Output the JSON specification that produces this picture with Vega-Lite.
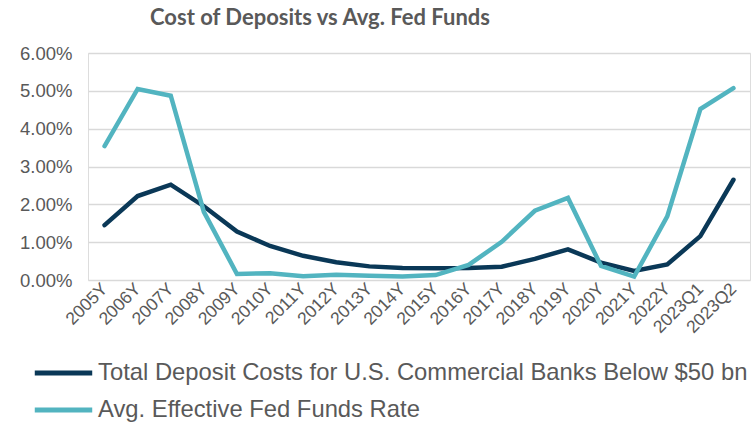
{
  "$schema": "https://vega.github.io/schema/vega-lite/v6.json",
  "width": 662,
  "height": 227,
  "autosize": {"type": "none"},
  "padding": {"left": 88, "top": 53, "right": 3, "bottom": 144},
  "background": "white",
  "title": {
    "text": "Cost of Deposits vs Avg. Fed Funds",
    "anchor": "middle",
    "dx": -99,
    "offset": 14,
    "font": "Lato",
    "fontSize": 22,
    "fontWeight": "bold",
    "color": "#595959"
  },
  "data": {
    "values": [
      {"period": "2005Y", "series": "Total Deposit Costs for U.S. Commercial Banks Below $50 bn", "value": 0.0145},
      {"period": "2006Y", "series": "Total Deposit Costs for U.S. Commercial Banks Below $50 bn", "value": 0.0222},
      {"period": "2007Y", "series": "Total Deposit Costs for U.S. Commercial Banks Below $50 bn", "value": 0.0252},
      {"period": "2008Y", "series": "Total Deposit Costs for U.S. Commercial Banks Below $50 bn", "value": 0.0195},
      {"period": "2009Y", "series": "Total Deposit Costs for U.S. Commercial Banks Below $50 bn", "value": 0.0128},
      {"period": "2010Y", "series": "Total Deposit Costs for U.S. Commercial Banks Below $50 bn", "value": 0.0090},
      {"period": "2011Y", "series": "Total Deposit Costs for U.S. Commercial Banks Below $50 bn", "value": 0.0064},
      {"period": "2012Y", "series": "Total Deposit Costs for U.S. Commercial Banks Below $50 bn", "value": 0.0047},
      {"period": "2013Y", "series": "Total Deposit Costs for U.S. Commercial Banks Below $50 bn", "value": 0.0036},
      {"period": "2014Y", "series": "Total Deposit Costs for U.S. Commercial Banks Below $50 bn", "value": 0.0032},
      {"period": "2015Y", "series": "Total Deposit Costs for U.S. Commercial Banks Below $50 bn", "value": 0.0031},
      {"period": "2016Y", "series": "Total Deposit Costs for U.S. Commercial Banks Below $50 bn", "value": 0.0032},
      {"period": "2017Y", "series": "Total Deposit Costs for U.S. Commercial Banks Below $50 bn", "value": 0.0035},
      {"period": "2018Y", "series": "Total Deposit Costs for U.S. Commercial Banks Below $50 bn", "value": 0.0056},
      {"period": "2019Y", "series": "Total Deposit Costs for U.S. Commercial Banks Below $50 bn", "value": 0.0081},
      {"period": "2020Y", "series": "Total Deposit Costs for U.S. Commercial Banks Below $50 bn", "value": 0.0046},
      {"period": "2021Y", "series": "Total Deposit Costs for U.S. Commercial Banks Below $50 bn", "value": 0.0024},
      {"period": "2022Y", "series": "Total Deposit Costs for U.S. Commercial Banks Below $50 bn", "value": 0.0041},
      {"period": "2023Q1", "series": "Total Deposit Costs for U.S. Commercial Banks Below $50 bn", "value": 0.0116},
      {"period": "2023Q2", "series": "Total Deposit Costs for U.S. Commercial Banks Below $50 bn", "value": 0.0265},
      {"period": "2005Y", "series": "Avg. Effective Fed Funds Rate", "value": 0.0354},
      {"period": "2006Y", "series": "Avg. Effective Fed Funds Rate", "value": 0.0505},
      {"period": "2007Y", "series": "Avg. Effective Fed Funds Rate", "value": 0.0487},
      {"period": "2008Y", "series": "Avg. Effective Fed Funds Rate", "value": 0.0180},
      {"period": "2009Y", "series": "Avg. Effective Fed Funds Rate", "value": 0.0016},
      {"period": "2010Y", "series": "Avg. Effective Fed Funds Rate", "value": 0.0018},
      {"period": "2011Y", "series": "Avg. Effective Fed Funds Rate", "value": 0.0010},
      {"period": "2012Y", "series": "Avg. Effective Fed Funds Rate", "value": 0.0014},
      {"period": "2013Y", "series": "Avg. Effective Fed Funds Rate", "value": 0.0011},
      {"period": "2014Y", "series": "Avg. Effective Fed Funds Rate", "value": 0.0009},
      {"period": "2015Y", "series": "Avg. Effective Fed Funds Rate", "value": 0.0013},
      {"period": "2016Y", "series": "Avg. Effective Fed Funds Rate", "value": 0.0040},
      {"period": "2017Y", "series": "Avg. Effective Fed Funds Rate", "value": 0.0101},
      {"period": "2018Y", "series": "Avg. Effective Fed Funds Rate", "value": 0.0183},
      {"period": "2019Y", "series": "Avg. Effective Fed Funds Rate", "value": 0.0217},
      {"period": "2020Y", "series": "Avg. Effective Fed Funds Rate", "value": 0.0037},
      {"period": "2021Y", "series": "Avg. Effective Fed Funds Rate", "value": 0.0009},
      {"period": "2022Y", "series": "Avg. Effective Fed Funds Rate", "value": 0.0168},
      {"period": "2023Q1", "series": "Avg. Effective Fed Funds Rate", "value": 0.0452},
      {"period": "2023Q2", "series": "Avg. Effective Fed Funds Rate", "value": 0.0507}
    ]
  },
  "mark": {"type": "line", "strokeWidth": 4.5, "strokeCap": "round", "strokeJoin": "miter"},
  "encoding": {
    "x": {
      "field": "period",
      "type": "ordinal",
      "sort": null,
      "title": null,
      "scale": {"type": "point", "padding": 0.5},
      "axis": {
        "labelAngle": -45,
        "labelAlign": "right",
        "labelBaseline": "middle",
        "labelFont": "Liberation Sans",
        "labelFontSize": 17.5,
        "labelColor": "#595959",
        "labelPadding": 6,
        "labelOverlap": false,
        "ticks": false,
        "domain": false,
        "grid": false
      }
    },
    "y": {
      "field": "value",
      "type": "quantitative",
      "title": null,
      "scale": {"domain": [0, 0.06], "nice": false},
      "axis": {
        "format": ".2%",
        "values": [0, 0.01, 0.02, 0.03, 0.04, 0.05, 0.06],
        "labelFont": "Liberation Sans",
        "labelFontSize": 18.5,
        "labelColor": "#595959",
        "labelPadding": 16,
        "ticks": false,
        "domain": false,
        "grid": true,
        "gridColor": "#d9d9d9",
        "gridWidth": 1.5
      }
    },
    "color": {
      "field": "series",
      "type": "nominal",
      "sort": ["Total Deposit Costs for U.S. Commercial Banks Below $50 bn", "Avg. Effective Fed Funds Rate"],
      "scale": {
        "domain": ["Total Deposit Costs for U.S. Commercial Banks Below $50 bn", "Avg. Effective Fed Funds Rate"],
        "range": ["#0a3857", "#52b4c0"]
      },
      "legend": {
        "title": null,
        "orient": "none",
        "legendX": -56,
        "legendY": 308,
        "direction": "vertical",
        "symbolType": "stroke",
        "symbolSize": 3300,
        "symbolStrokeWidth": 5,
        "clipHeight": 24,
        "labelFont": "Liberation Sans",
        "labelFontSize": 23.8,
        "labelColor": "#595959",
        "labelOffset": 3,
        "labelLimit": 760,
        "rowPadding": 13
      }
    }
  }
}
